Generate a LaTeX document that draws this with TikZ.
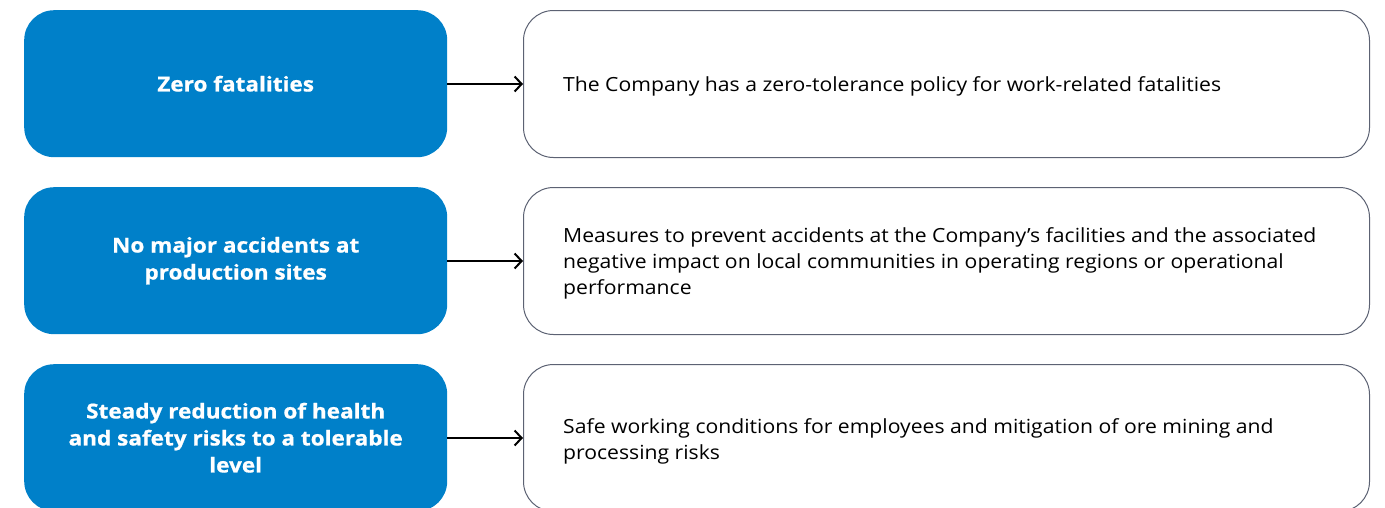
\documentclass[tikz,border=0pt]{standalone}
\usepackage{fontspec}
\setmainfont[FakeStretch=1.085]{Open Sans}
\newfontfamily\goalfont[FakeStretch=1.1,BoldFeatures={FakeBold=0.8}]{Open Sans}
\usetikzlibrary{arrows.meta}
\definecolor{goalblue}{HTML}{0080C9}
\definecolor{edgegray}{HTML}{5C6273}
\tikzset{
  goal/.style={fill=goalblue, draw=none, rounded corners=30pt, minimum width=423pt, minimum height=147pt, inner sep=0pt, anchor=north west,
    text=white, font=\goalfont\fontsize{20.5pt}{27pt}\selectfont\bfseries, align=center},
  desc/.style={fill=white, draw=edgegray, line width=1pt, rounded corners=30pt, minimum width=846pt, minimum height=147pt, inner sep=0pt, anchor=north west},
  desctext/.style={anchor=west, font=\fontsize{19.5pt}{25.8pt}\selectfont, align=left, inner sep=0pt},
  link/.style={draw=black, line width=2pt, -{Straight Barb[length=7pt,width=15pt,line width=2pt]}}
}
\begin{document}
\begin{tikzpicture}[x=1pt,y=-1pt]
\useasboundingbox (0,0) rectangle (1385,507);
\clip (0,0) rectangle (1385,507);
\node[goal] (g1) at (24,10) {Zero fatalities};
\node[goal] (g2) at (24,187) {\rule{0pt}{4pt}No major accidents at\\production sites};
\node[goal] (g3) at (24,364) {Steady reduction of health\\and safety risks to a tolerable\\level};
\node[desc] (d1) at (523,10) {};
\node[desc] (d2) at (523,187) {};
\node[desc] (d3) at (523,364) {};
\node[desctext] (t1) at (563,86) {The Company has a zero-tolerance policy for work-related fatalities};
\node[desctext] (t2) at (563,263.5) {Measures to prevent accidents at the Company’s facilities and the associated\\negative impact on local communities in operating regions or operational\\performance};
\node[desctext] (t3) at (563,441) {Safe working conditions for employees and mitigation of ore mining and\\processing risks};
\draw[link] (g1.east |- d1.west) -- (d1.west);
\draw[link] (g2.east |- d2.west) -- (d2.west);
\draw[link] (g3.east |- d3.west) -- (d3.west);
\end{tikzpicture}
\end{document}
